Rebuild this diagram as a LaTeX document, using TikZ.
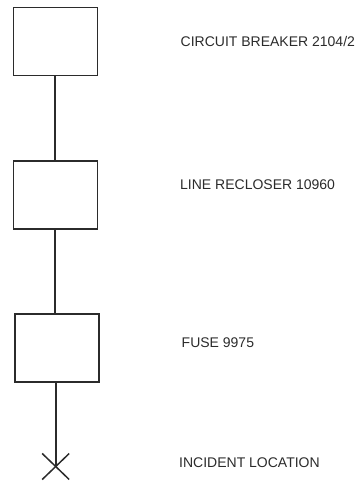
\documentclass[tikz,border=0pt]{standalone}
\usepackage{fontspec}
\setmainfont{Liberation Sans}
\usetikzlibrary{calc}
\definecolor{ink}{HTML}{2B2B2B}
\tikzset{
  devbox/.style={draw=ink, line width=1.6pt, fill=white, minimum width=84pt, minimum height=68pt, inner sep=0pt},
  lbl/.style={anchor=base west, inner sep=0pt, text=ink, font=\fontsize{14}{16}\selectfont},
  wire/.style={draw=ink, line width=1.7pt}
}
\begin{document}
\begin{tikzpicture}[x=1pt, y=-1pt, line cap=butt, line join=miter]
\useasboundingbox (0,0) rectangle (357,482);

% punto del guasto
\coordinate (inc) at (55.7,466.5);

% apparecchi
\node[devbox] (cb) at (55.3,41.5) {};
\node[devbox] (lr) at (55.3,195) {};
\node[devbox] (fu) at (56.7,348) {};

% collegamenti
\draw[wire] (cb.south) -- (lr.north);
\draw[wire] (lr.south) -- (fu.north -| lr);
\draw[wire] (fu.south -| inc) -- (inc);

% croce
\draw[wire, line width=1.5pt] ($(inc)+(-13.5,-13)$) -- ($(inc)+(13.5,13)$);
\draw[wire, line width=1.5pt] ($(inc)+(-13.5,13)$) -- ($(inc)+(13.5,-13)$);

% etichette
\node[lbl] (cbl) at (180.5,46) {CIRCUIT BREAKER 2104/2};
\node[lbl] (lrl) at (180,189.5) {LINE RECLOSER 10960};
\node[lbl] (ful) at (181.5,347) {FUSE 9975};
\node[lbl] (incl) at (179,467.3) {INCIDENT LOCATION};

\end{tikzpicture}
\end{document}
